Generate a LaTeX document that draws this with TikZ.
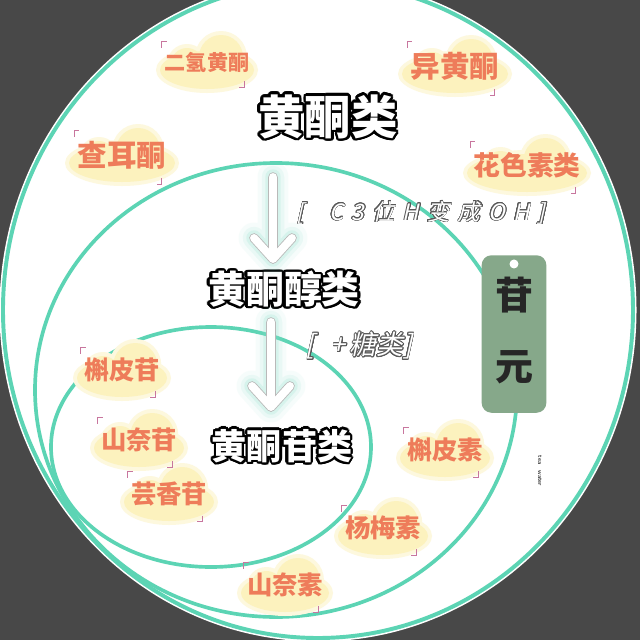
\documentclass[tikz,border=0pt]{standalone}
\usepackage{fontspec}
\usepackage[copies]{contour}
\usetikzlibrary{positioning,calc}
\newfontfamily\cjk{Noto Sans CJK SC}
\newfontfamily\cjkslant{Noto Sans CJK SC}[FakeSlant=0.22]
\contournumber{20}

\definecolor{slate}{RGB}{72,72,72}
\definecolor{mint}{RGB}{92,212,180}
\definecolor{salmon}{RGB}{238,124,90}
\definecolor{cream}{RGB}{252,242,190}
\definecolor{puffedge}{RGB}{253,248,222}
\definecolor{brkpink}{RGB}{200,118,158}
\definecolor{sage}{RGB}{134,168,138}

\pgfdeclarelayer{paper}
\pgfdeclarelayer{puffs}
\pgfsetlayers{paper,puffs,main}

\newcommand\gap{\hspace{0.36em}}

% cloud blob and corner marks for a member name: node, half width (px)
\newcommand\puff[2]{%
  \begin{pgfonlayer}{puffs}
    \fill[puffedge] ($(#1.center)+(0,8)$) ellipse [x radius=#2+11, y radius=23]
      ($(#1.center)+(0.35*#2,-5)$) circle (26)
      ($(#1.center)+(-0.5*#2,2)$) circle (20);
    \fill[cream] ($(#1.center)+(0,8)$) ellipse [x radius=#2+7, y radius=19]
      ($(#1.center)+(0.35*#2,-5)$) circle (22)
      ($(#1.center)+(-0.5*#2,2)$) circle (16);
  \end{pgfonlayer}
  \draw[brk] ([shift={(-3,-4)}]#1.north west) -- ++(0,-6) -- ++(5,0);
  \draw[brk] ([shift={(-5,9)}]#1.south east) -- ++(0,6) -- ++(-5,0);
}

\begin{document}
\begin{tikzpicture}[x=0.025cm,y=-0.025cm,
  ring/.style={draw=mint,line width=2.6pt},
  title/.style={font=\cjk\bfseries\fontsize{#1}{#1}\selectfont,text=white,inner sep=0pt},
  member/.style={font=\cjk\bfseries\fontsize{#1}{#1}\selectfont,text=salmon,inner sep=0pt},
  remark/.style={font=\cjkslant\fontsize{#1}{#1}\selectfont,text=white,inner sep=0pt},
  tagchar/.style={font=\cjk\bfseries\fontsize{27}{27}\selectfont,text=black!85,inner sep=0pt},
  brk/.style={draw=brkpink,line width=0.7pt},
  glow/.style={draw=mint!70!white,line cap=round,line join=round},
  shaft/.style={line cap=round,line join=round}]

  \useasboundingbox (0,0) rectangle (640,640);
  \begin{pgfonlayer}{paper}
    \clip (0,0) rectangle (640,640);
    \fill[slate] (0,0) rectangle (640,640);
    \draw[white,line width=5pt] (318,310) ellipse [x radius=315, y radius=328];
    \filldraw[fill=white,ring,line width=2.8pt] (318,310) ellipse [x radius=315, y radius=328];
    \draw[ring] (276,390) ellipse [x radius=241, y radius=227];
    \draw[ring] (211,447) ellipse [x radius=160, y radius=120];
  \end{pgfonlayer}

  % the three classes
  \node[title=33] (flavone) at (328,118) {\contourlength{1.8pt}\contour{black}{黄酮类}};
  \node[title=27] (flavonol) at (284,290) {\contourlength{1.6pt}\contour{black}{黄酮醇类}};
  \node[title=25] (glycoside) at (282,447) {\contourlength{1.6pt}\contour{black}{黄酮苷类}};

  \coordinate (stepA) at (273,177);
  \coordinate (stepA-tip) at (273,259);
  \coordinate (stepB) at (271,322);
  \coordinate (stepB-tip) at (271,407);
  \foreach \from/\to in {stepA/stepA-tip,stepB/stepB-tip}{
    \foreach \w/\o in {22pt/0.07,16pt/0.12,11pt/0.2}
      \draw[glow,line width=\w,opacity=\o] (\from) -- (\to) (\to) -- ++(-19,-21) (\to) -- ++(19,-21);
    \draw[shaft,gray!55,line width=6.8pt] (\from) -- (\to) (\to) -- ++(-19,-21) (\to) -- ++(19,-21);
    \draw[shaft,white,line width=5.6pt] (\from) -- (\to) (\to) -- ++(-19,-21) (\to) -- ++(19,-21);
  }

  \node[remark=16] (c3note) at (421,213)
    {\contourlength{0.5pt}\contour{gray!70!black}{[\hspace{1.1em}C\gap{}3\gap{}位\gap{}H\gap{}变\gap{}成\gap{}O\gap{}H\gap{}]}};
  \node[remark=19] (sugarnote) at (359,346)
    {\contourlength{0.5pt}\contour{gray!70!black}{[\hspace{0.6em}+\hspace{0.15em}糖类]}};

  % aglycone tag
  \node[fill=sage,rounded corners=7pt,minimum width=46pt,minimum height=112pt,inner sep=0pt] (tag) at (514,334) {};
  \fill[white] ([shift={(0,9)}]tag.north) circle (4.5);
  \node[tagchar] (gan) at ([shift={(0,40)}]tag.north) {苷};
  \node[tagchar] (yuan) at ([shift={(0,-46)}]tag.south) {元};

  \node[font=\sffamily\fontsize{4.5}{5}\selectfont,rotate=-90] (sig) at (540,471) {tea\quad water};

  % members
  \node[member=15] (dihydro) at (207,62) {二氢黄酮};
  \puff{dihydro}{40}
  \node[member=21] (iso) at (455,66) {异黄酮};
  \puff{iso}{46}
  \node[member=21] (chalcone) at (122,155) {查耳酮};
  \puff{chalcone}{46}
  \node[member=19] (antho) at (527,165) {花色素类};
  \puff{antho}{53}
  \node[member=18] (quercitrin) at (122,370) {槲皮苷};
  \puff{quercitrin}{38}
  \node[member=18] (kaempgly) at (139,440) {山奈苷};
  \puff{kaempgly}{38}
  \node[member=18] (rutin) at (169,494) {芸香苷};
  \puff{rutin}{38}
  \node[member=18] (quercetin) at (445,450) {槲皮素};
  \puff{quercetin}{38}
  \node[member=18] (myricetin) at (383,528) {杨梅素};
  \puff{myricetin}{38}
  \node[member=18] (kaempferol) at (285,585) {山奈素};
  \puff{kaempferol}{37}
\end{tikzpicture}
\end{document}
